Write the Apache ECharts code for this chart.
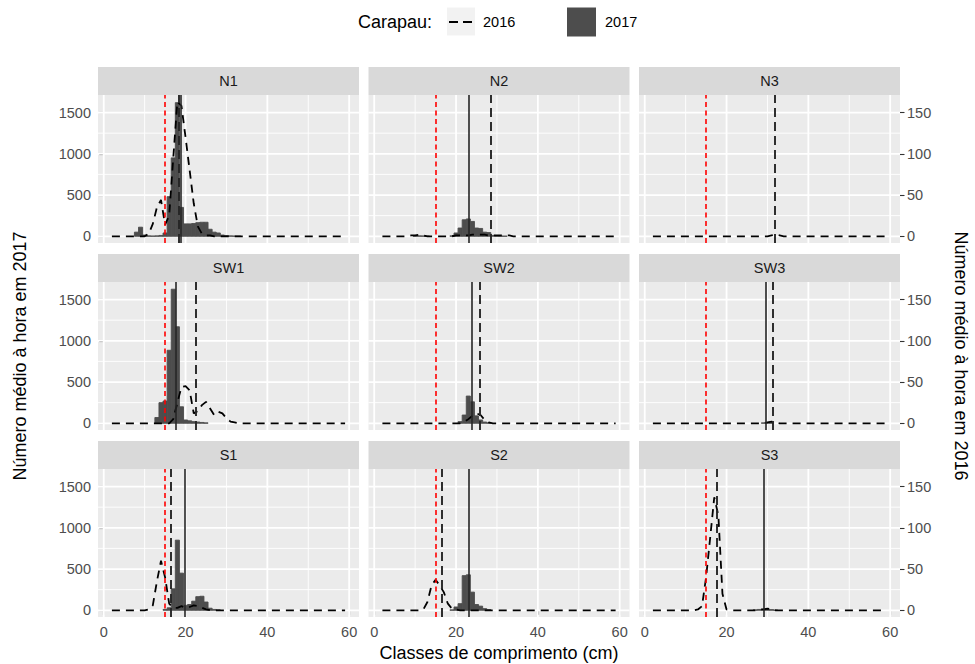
<!DOCTYPE html>
<html><head><meta charset="utf-8">
<script src="https://cdn.jsdelivr.net/npm/echarts@6/dist/echarts.min.js"></script>
<style>html,body{margin:0;padding:0;background:#fff}#c{width:975px;height:664px}</style>
</head><body><div id="c"></div>
<script>
// ---------- DATA ----------
const lengths = [2,3,4,5,6,7,8,9,10,11,12,13,14,15,16,17,18,19,20,21,22,23,24,25,26,27,28,29,30,31,32,33,34,35,36,37,38,39,40,41,42,43,44,45,46,47,48,49,50,51,52,53,54,55,56,57,58,59];
const panelNames = ['N1','N2','N3','SW1','SW2','SW3','S1','S2','S3'];

const N1_2017 = [0,0,0,0,0,0,50,110,15,5, 3,5,10,40,480,950,1620,350,150,150, 155,165,170,170,85,50,40,15,8,5, 3,2,0,0,0,0,0,0,0,0, 0,0,0,0,0,0,0,0,0,0, 0,0,0,0,0,0,0,0];
const N1_2016 = [0,0,0,0,0,0,0,0,0,3, 15,35,44,14,25,95,163,158,120,80, 40,12,3,1,1,0,0,0,0,0, 0,0,0,0,0,0,0,0,0,0, 0,0,0,0,0,0,0,0,0,0, 0,0,0,0,0,0,0,0];
const N2_2017 = [0,0,0,0,0,0,0,0,3,5, 4,2,0,0,0,0,0,5,40,100, 200,210,180,100,95,50,45,10,5,3, 2,0,0,0,0,0,0,0,0,0, 0,0,0,0,0,0,0,0,0,0, 0,0,0,0,0,0,0,0];
const N2_2016 = [0,0,0,0,0,0,0,1,1,2, 1,0,0,0,0,0,0,0,1,1, 1,1,2,2,2,2,1,1,1,1, 1,1,0,0,0,0,0,0,0,0, 0,0,0,0,0,0,0,0,0,0, 0,0,0,0,0,0,0,0];
const N3_2017 = [0,0,0,0,0,0,0,0,0,0, 0,0,0,0,0,0,0,0,0,0, 0,0,0,0,0,0,0,0,0,0, 0,0,0,0,0,0,0,0,0,0, 0,0,0,0,0,0,0,0,0,0, 0,0,0,0,0,0,0,0];
const N3_2016 = [0,0,0,0,0,0,0,0,0,0, 0,0,0,0,0,0,0,0,0,0, 0,0,0,0,0,0,0,0,0,1, 2,1,0,0,0,0,0,0,0,0, 0,0,0,0,0,0,0,0,0,0, 0,0,0,0,0,0,0,0];
const SW1_2017 = [0,0,0,0,0,0,0,0,0,0, 0,70,250,270,885,1625,1170,200,40,30, 20,15,10,5,0,0,0,0,0,0, 0,0,0,0,0,0,0,0,0,0, 0,0,0,0,0,0,0,0,0,0, 0,0,0,0,0,0,0,0];
const SW1_2016 = [0,0,0,0,0,0,0,0,0,0, 0,0,0,0,0,5,25,44,45,40, 12,15,22,26,18,10,14,12,6,2, 1,0,0,0,0,0,0,0,0,0, 0,0,0,0,0,0,0,0,0,0, 0,0,0,0,0,0,0,0];
const SW2_2017 = [0,0,0,0,0,0,0,0,0,0, 0,0,0,0,0,0,0,0,0,20, 100,330,260,90,40,15,5,0,0,0, 0,0,0,0,0,0,0,0,0,0, 0,0,0,0,0,0,0,0,0,0, 0,0,0,0,0,0,0,0];
const SW2_2016 = [0,0,0,0,0,0,0,0,0,0, 0,0,0,0,0,0,0,0,0,0, 2,5,9,12,10,4,1,0,0,0, 0,0,0,0,0,0,0,0,0,0, 0,0,0,0,0,0,0,0,0,0, 0,0,0,0,0,0,0,0];
const SW3_2017 = [0,0,0,0,0,0,0,0,0,0, 0,0,0,0,0,0,0,0,0,0, 0,0,0,0,0,0,0,5,8,5, 0,0,0,0,0,0,0,0,0,0, 0,0,0,0,0,0,0,0,0,0, 0,0,0,0,0,0,0,0];
const SW3_2016 = [0,0,0,0,0,0,0,0,0,0, 0,0,0,0,0,0,0,0,0,0, 0,0,0,0,0,0,0,0,1,2, 1,0,0,0,0,0,0,0,0,0, 0,0,0,0,0,0,0,0,0,0, 0,0,0,0,0,0,0,0];
const S1_2017 = [0,0,0,0,0,0,0,0,0,0, 0,0,0,10,30,260,850,450,60,70, 110,165,170,100,25,10,5,0,0,0, 0,0,0,0,0,0,0,0,0,0, 0,0,0,0,0,0,0,0,0,0, 0,0,0,0,0,0,0,0];
const S1_2016 = [0,0,0,0,0,0,0,0,0,1, 6,35,60,40,8,3,3,5,3,4, 6,5,3,1,0,0,0,0,0,0, 0,0,0,0,0,0,0,0,0,0, 0,0,0,0,0,0,0,0,0,0, 0,0,0,0,0,0,0,0];
const S2_2017 = [0,0,0,0,0,0,0,0,0,0, 0,0,0,0,0,0,0,5,40,80, 420,430,220,70,50,20,8,0,0,0, 0,0,0,0,0,0,0,0,0,0, 0,0,0,0,0,0,0,0,0,0, 0,0,0,0,0,0,0,0];
const S2_2016 = [0,0,0,0,0,0,0,0,0,0, 1,10,30,37,30,22,8,2,1,0, 0,0,0,0,0,0,0,0,0,0, 0,0,0,0,0,0,0,0,0,0, 0,0,0,0,0,0,0,0,0,0, 0,0,0,0,0,0,0,0];
const S3_2017 = [0,0,0,0,0,0,0,0,0,0, 0,0,0,0,0,0,0,0,0,0, 0,0,0,0,0,5,10,12,15,8, 3,0,0,0,0,0,0,0,0,0, 0,0,0,0,0,0,0,0,0,0, 0,0,0,0,0,0,0,0];
const S3_2016 = [0,0,0,0,0,0,0,0,0,0, 0,1,5,40,88,137,115,20,1,0, 0,0,0,0,0,0,1,1,2,1, 0,0,0,0,0,0,0,0,0,0, 0,0,0,0,0,0,0,0,0,0, 0,0,0,0,0,0,0,0];

const minSize = 15;
const median2017 = [18.9, 23.2, null, 17.7, 23.8, 29.6, 19.9, 23.2, 29.0];
const median2016 = [18.3, 28.4, 31.9, 22.5, 25.7, 31.4, 16.4, 16.5, 17.6];

const xTicks = [0, 20, 40, 60];
const xMinor = [10, 30, 50];
const yTicks2017 = [0, 500, 1000, 1500];
const yMinor2017 = [250, 750, 1250];
const yTicks2016 = [0, 50, 100, 150];

// ---------- BUILD ----------
const data2017 = [N1_2017, N2_2017, N3_2017, SW1_2017, SW2_2017, SW3_2017, S1_2017, S2_2017, S3_2017];
const data2016 = [N1_2016, N2_2016, N3_2016, SW1_2016, SW2_2016, SW3_2016, S1_2016, S2_2016, S3_2016];

const FONT = '"Liberation Sans", Arial, Helvetica, sans-serif';
const colLeft = [98, 368.5, 639], rowTop = [95, 282, 469];
const panelW = 261, panelH = 148, stripH = 28;
const plain = v => String(v);

const grids = [], xAxes = [], yAxes = [], series = [], graphics = [];

const gridItems = [].concat(
  xMinor.map(v => [v, 0, 1]), yMinor2017.map(v => [0, v, 3]),
  xTicks.map(v => [v, 0, 0]), yTicks2017.map(v => [0, v, 2])
);

for (let i = 0; i < 9; i++) {
  const r = Math.floor(i / 3), c = i % 3;
  grids.push({left: colLeft[c], top: rowTop[r], width: panelW, height: panelH,
    show: true, backgroundColor: '#EBEBEB', borderWidth: 0});
  xAxes.push({gridIndex: i, type: 'value', min: -1.4, max: 62.4,
    axisLine: {show: false}, splitLine: {show: false},
    axisTick: {show: r === 2, customValues: xTicks, length: 4.5, lineStyle: {color: '#333', width: 1.1}},
    axisLabel: {show: r === 2, customValues: xTicks, formatter: plain, color: '#4D4D4D', fontSize: 14.5, fontFamily: FONT, margin: 7}});
  yAxes.push({gridIndex: i, type: 'value', position: 'left', min: -81.5, max: 1712.5,
    axisLine: {show: false}, splitLine: {show: false},
    axisTick: {show: c === 0, customValues: yTicks2017, length: 4.5, lineStyle: {color: '#333', width: 1.1}},
    axisLabel: {show: c === 0, customValues: yTicks2017, formatter: plain, color: '#4D4D4D', fontSize: 14.5, fontFamily: FONT, margin: 7}});
  yAxes.push({gridIndex: i, type: 'value', position: 'right', min: -8.15, max: 171.25,
    axisLine: {show: false}, splitLine: {show: false},
    axisTick: {show: c === 2, customValues: yTicks2016, length: 4.5, lineStyle: {color: '#333', width: 1.1}},
    axisLabel: {show: c === 2, customValues: yTicks2016, formatter: plain, color: '#4D4D4D', fontSize: 14.5, fontFamily: FONT, margin: 7}});

  // grid lines
  series.push({type: 'custom', xAxisIndex: i, yAxisIndex: 2 * i, silent: true, z: 1,
    encode: {x: 0, y: 1}, data: gridItems,
    renderItem: (params, api) => {
      const cs = params.coordSys, kind = api.value(2);
      const w = (kind === 0 || kind === 2) ? 1.8 : 0.9;
      if (kind < 2) {
        const x = api.coord([api.value(0), 0])[0];
        return {type: 'line', shape: {x1: x, y1: cs.y, x2: x, y2: cs.y + cs.height}, style: {stroke: '#FFFFFF', lineWidth: w}};
      }
      const y = api.coord([0, api.value(1)])[1];
      return {type: 'line', shape: {x1: cs.x, y1: y, x2: cs.x + cs.width, y2: y}, style: {stroke: '#FFFFFF', lineWidth: w}};
    }});

  // 2017 histogram bars
  const bars = lengths.map((L, k) => [L, data2017[i][k]]).filter(d => d[1] > 0);
  series.push({type: 'custom', name: '2017', xAxisIndex: i, yAxisIndex: 2 * i, silent: true, z: 2,
    encode: {x: 0, y: 1}, data: bars,
    renderItem: (params, api) => {
      const x = api.value(0), v = api.value(1);
      const a = api.coord([x - 0.5, 0]), b = api.coord([x + 0.5, v]);
      return {type: 'rect', shape: {x: a[0], y: b[1], width: b[0] - a[0], height: a[1] - b[1]},
        style: {fill: '#4D4D4D', stroke: '#4D4D4D', lineWidth: 0.9}};
    }});

  // 2016 line + vertical reference lines
  const ml = [{xAxis: minSize, lineStyle: {color: '#FF0000', width: 1.6, type: [5, 3.5]}}];
  if (median2017[i] !== null) ml.push({xAxis: median2017[i], lineStyle: {color: '#262626', width: 1.6, type: 'solid'}});
  if (median2016[i] !== null) ml.push({xAxis: median2016[i], lineStyle: {color: '#262626', width: 1.9, type: [9, 5]}});
  series.push({type: 'line', name: '2016', xAxisIndex: i, yAxisIndex: 2 * i + 1, z: 3,
    data: lengths.map((L, k) => [L, data2016[i][k]]),
    showSymbol: false, symbol: 'none', silent: true,
    lineStyle: {color: '#000000', width: 1.8, type: [8, 6]},
    markLine: {silent: true, symbol: ['none', 'none'], label: {show: false}, animation: false,
      emphasis: {disabled: true}, data: ml}});

  // strip
  graphics.push({type: 'rect', shape: {x: colLeft[c], y: rowTop[r] - stripH, width: panelW, height: stripH},
    style: {fill: '#D9D9D9'}, silent: true});
  graphics.push({type: 'text', x: colLeft[c] + panelW / 2, y: rowTop[r] - stripH / 2,
    style: {text: panelNames[i], fill: '#1A1A1A', fontSize: 14.5, fontFamily: FONT, textAlign: 'center', textVerticalAlign: 'middle'}});
}

// axis titles
graphics.push({type: 'text', x: 499, y: 653, style: {text: 'Classes de comprimento (cm)', fill: '#000', fontSize: 18, fontFamily: FONT, textAlign: 'center', textVerticalAlign: 'middle'}});
graphics.push({type: 'text', x: 20, y: 356, rotation: Math.PI / 2, style: {text: 'Número médio à hora em 2017', fill: '#000', fontSize: 18, fontFamily: FONT, textAlign: 'center', textVerticalAlign: 'middle'}});
graphics.push({type: 'text', x: 961, y: 356, rotation: -Math.PI / 2, style: {text: 'Número médio à hora em 2016', fill: '#000', fontSize: 18, fontFamily: FONT, textAlign: 'center', textVerticalAlign: 'middle'}});

// legend
graphics.push({type: 'text', x: 358, y: 22, style: {text: 'Carapau:', fill: '#000', fontSize: 18, fontFamily: FONT, textAlign: 'left', textVerticalAlign: 'middle'}});
graphics.push({type: 'rect', shape: {x: 447, y: 7.5, width: 28, height: 28}, style: {fill: '#F2F2F2'}});
graphics.push({type: 'line', shape: {x1: 449, y1: 22, x2: 473, y2: 22}, style: {stroke: '#000', lineWidth: 1.8, lineDash: [9, 5]}});
graphics.push({type: 'text', x: 483, y: 22, style: {text: '2016', fill: '#000', fontSize: 14.5, fontFamily: FONT, textAlign: 'left', textVerticalAlign: 'middle'}});
graphics.push({type: 'rect', shape: {x: 567, y: 7.5, width: 29, height: 29}, style: {fill: '#4D4D4D'}});
graphics.push({type: 'text', x: 605, y: 22, style: {text: '2017', fill: '#000', fontSize: 14.5, fontFamily: FONT, textAlign: 'left', textVerticalAlign: 'middle'}});

const chart = echarts.init(document.getElementById('c'), null, {renderer: 'svg'});
chart.setOption({
  animation: false,
  backgroundColor: '#FFFFFF',
  textStyle: {fontFamily: FONT},
  grid: grids, xAxis: xAxes, yAxis: yAxes, series: series, graphic: graphics
});
</script>
</body></html>
